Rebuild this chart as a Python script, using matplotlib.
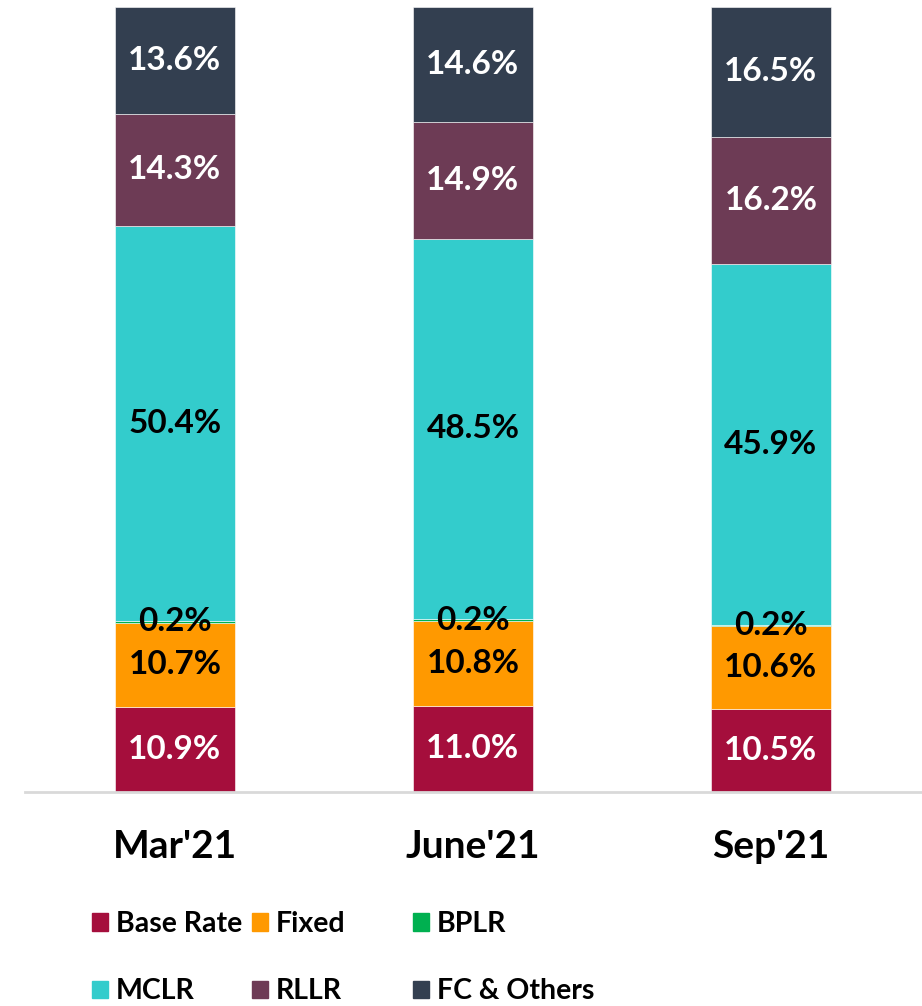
import matplotlib.pyplot as plt
from matplotlib.patches import Patch

plt.rcParams['font.family'] = ['Lato', 'DejaVu Sans']
plt.rcParams['font.weight'] = 'bold'

periods = ["Mar'21", "June'21", "Sep'21"]
series = ['Base Rate', 'Fixed', 'BPLR', 'MCLR', 'RLLR', 'FC & Others']
base_rate = [10.9, 11.0, 10.5]
fixed = [10.7, 10.8, 10.6]
bplr = [0.2, 0.2, 0.2]
mclr = [50.4, 48.5, 45.9]
rllr = [14.3, 14.9, 16.2]
fc_others = [13.6, 14.6, 16.5]

colors = ['#A50E3C', '#FF9900', '#00B050', '#33CCCC', '#6D3B55', '#333F50']
label_colors = ['white', 'black', 'black', 'black', 'white', 'white']

all_vals = [base_rate, fixed, bplr, mclr, rllr, fc_others]
# 100% stacked: each bar scaled to its own total
totals = [sum(v[i] for v in all_vals) for i in range(len(periods))]

fig = plt.figure(figsize=(9.22, 10.06), dpi=100)
ax = fig.add_axes([25 / 922, 1 - 792 / 1006, 897 / 922, 785 / 1006])

x = range(len(periods))
bottom = [0, 0, 0]
for name, vals, c, lc in zip(series, all_vals, colors, label_colors):
    h = [v / t * 100 for v, t in zip(vals, totals)]
    bars = ax.bar(x, h, 0.403, bottom=bottom, color=c, edgecolor='white', linewidth=0.4, label=name)
    ax.bar_label(bars, labels=['%.1f%%' % v for v in vals], label_type='center',
                 color=lc, fontsize=24, fontweight='bold')
    bottom = [b + v for b, v in zip(bottom, h)]

ax.set_xlim(-0.503, 2.507)
ax.set_ylim(0, 100)
ax.set_xticks(list(x))
ax.set_xticklabels(periods, fontsize=28, fontweight='bold')
ax.tick_params(axis='x', length=0, pad=27)
ax.set_yticks([])
for s in ['top', 'right', 'left']:
    ax.spines[s].set_visible(False)
ax.spines['bottom'].set_color('#D9D9D9')
ax.spines['bottom'].set_linewidth(2)

# legend laid out as three equal columns
col_x = [92 / 922, 252 / 922, 413 / 922]
for i in range(3):
    handles = [Patch(color=colors[i]), Patch(color=colors[i + 3])]
    fig.legend(handles, [series[i], series[i + 3]], loc='upper left',
               bbox_to_anchor=(col_x[i], 1 - 911 / 1006), frameon=False,
               prop={'size': 20.5, 'weight': 'bold'}, handlelength=0.55, handleheight=0.55,
               handletextpad=0.3, labelspacing=1.45, borderaxespad=0, borderpad=0)

fig.savefig('out.png', dpi=100)
